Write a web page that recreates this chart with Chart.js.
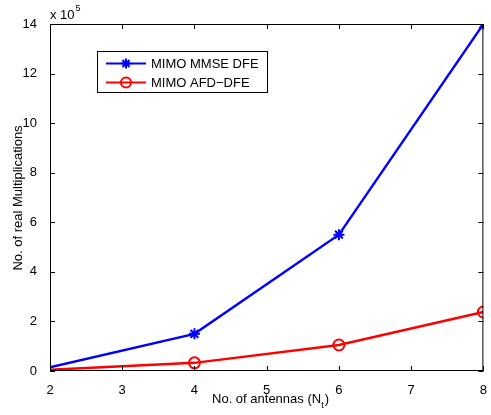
<!DOCTYPE html>
<html><head><meta charset="utf-8">
<script src="https://cdn.jsdelivr.net/npm/chart.js@4.4.1/dist/chart.umd.min.js"></script>
<style>html,body{margin:0;padding:0;background:#fff}</style>
</head><body>
<canvas id="c" width="491" height="415"></canvas>
<script>
const antennas = [2, 4, 6, 8];
const mmseDfe = [0.15, 1.5, 5.5, 14];
const afdDfe = [0.05, 0.33, 1.05, 2.38];
const seriesLabels = ['MIMO MMSE DFE', 'MIMO AFD\u2212DFE'];
const xTicks = [2, 3, 4, 5, 6, 7, 8];
const yTicks = [0, 2, 4, 6, 8, 10, 12, 14];
const FAM = '"Liberation Sans", Arial, sans-serif';
const FONT = '13px ' + FAM;
const SMALL = '9px ' + FAM;

const decor = {
  id: 'decor',
  afterDraw(chart) {
    const {ctx, chartArea: a, scales: {x, y}} = chart;
    ctx.save();
    ctx.strokeStyle = '#000';
    ctx.lineWidth = 1;
    ctx.strokeRect(a.left + 0.5, a.top + 0.5, a.right - a.left - 1, a.bottom - a.top - 1);
    ctx.beginPath();
    xTicks.forEach(v => {
      const px = Math.round(x.getPixelForValue(v)) + 0.5;
      ctx.moveTo(px, a.bottom); ctx.lineTo(px, a.bottom - 5);
      ctx.moveTo(px, a.top); ctx.lineTo(px, a.top + 5);
    });
    yTicks.forEach(v => {
      const py = Math.round(y.getPixelForValue(v)) + 0.5;
      ctx.moveTo(a.left, py); ctx.lineTo(a.left + 5, py);
      ctx.moveTo(a.right, py); ctx.lineTo(a.right - 5, py);
    });
    ctx.stroke();
    ctx.fillStyle = '#000';
    ctx.font = FONT;
    // exponent label
    ctx.textBaseline = 'alphabetic';
    ctx.textAlign = 'left';
    ctx.fillText('x 10', a.left, a.top - 5);
    const w = ctx.measureText('x 10').width;
    ctx.font = SMALL;
    ctx.fillText('5', a.left + w + 1, a.top - 13);
    // x title with subscript
    ctx.font = FONT;
    const t1 = 'No. of antennas (N', t2 = 't', t3 = ')';
    const w1 = ctx.measureText(t1).width;
    ctx.font = SMALL;
    const w2 = ctx.measureText(t2).width;
    ctx.font = FONT;
    const w3 = ctx.measureText(t3).width;
    let sx = 270 - (w1 + w2 + w3) / 2;
    const by = 403;
    ctx.fillText(t1, sx, by);
    ctx.font = SMALL;
    ctx.fillText(t2, sx + w1, by + 5);
    ctx.font = FONT;
    ctx.fillText(t3, sx + w1 + w2 + 1, by);
    // y title
    ctx.save();
    ctx.translate(18, 198);
    ctx.rotate(-Math.PI / 2);
    ctx.textAlign = 'center';
    ctx.textBaseline = 'middle';
    ctx.fillText('No. of real Multiplications', 0, 0);
    ctx.restore();
    // legend
    const lx = 97.5, ly = 51.5, lw = 170, lh = 41;
    ctx.fillStyle = '#fff';
    ctx.fillRect(lx, ly, lw, lh);
    ctx.strokeStyle = '#000';
    ctx.lineWidth = 1;
    ctx.strokeRect(lx, ly, lw, lh);
    const rows = [63.5, 82.5];
    chart.data.datasets.forEach((ds, i) => {
      const ry = rows[i];
      ctx.strokeStyle = ds.borderColor;
      ctx.lineWidth = 2.2;
      ctx.beginPath(); ctx.moveTo(106, ry); ctx.lineTo(146, ry); ctx.stroke();
      const cx = 126;
      if (ds.pointStyle === 'star') {
        ctx.lineWidth = 2;
        ctx.beginPath();
        const r = 5;
        for (let k = 0; k < 4; k++) {
          const ang = k * Math.PI / 4;
          ctx.moveTo(cx - r * Math.cos(ang), ry - r * Math.sin(ang));
          ctx.lineTo(cx + r * Math.cos(ang), ry + r * Math.sin(ang));
        }
        ctx.stroke();
      } else {
        ctx.lineWidth = 2;
        ctx.beginPath(); ctx.arc(cx, ry, 5, 0, Math.PI * 2); ctx.stroke();
      }
      ctx.fillStyle = '#000';
      ctx.font = FONT;
      ctx.textBaseline = 'middle';
      ctx.textAlign = 'left';
      ctx.fillText(ds.label, 151, ry + 0.5);
    });
    ctx.restore();
  }
};

const radii = [0, 5.5, 5.5, 5.5];

new Chart(document.getElementById('c'), {
  type: 'line',
  data: {
    datasets: [
      {label: seriesLabels[0], data: antennas.map((a, i) => ({x: a, y: mmseDfe[i]})),
       borderColor: 'rgb(0,0,255)', backgroundColor: 'rgb(0,0,255)', borderWidth: 2.4,
       pointStyle: 'star', pointRadius: radii, pointBorderWidth: 2, pointHoverRadius: 5, tension: 0, clip: 0},
      {label: seriesLabels[1], data: antennas.map((a, i) => ({x: a, y: afdDfe[i]})),
       borderColor: 'rgb(255,0,0)', backgroundColor: 'rgba(0,0,0,0)', borderWidth: 2.4,
       pointStyle: 'circle', pointRadius: radii, pointBorderWidth: 2, pointHoverRadius: 5, tension: 0, clip: 0}
    ]
  },
  options: {
    responsive: false, animation: false,
    layout: {padding: {left: 0, right: 1, top: 24, bottom: 0}},
    plugins: {legend: {display: false}, tooltip: {enabled: false}},
    scales: {
      x: {type: 'linear', min: 2, max: 8,
          afterFit(s) { s.height = 44; },
          afterBuildTicks(s) { s.ticks = xTicks.map(v => ({value: v})); },
          grid: {display: false}, border: {display: false},
          ticks: {color: '#000', font: {family: FAM, size: 13}, padding: 4, maxRotation: 0}},
      y: {type: 'linear', min: 0, max: 14,
          afterFit(s) { s.width = 50; },
          afterBuildTicks(s) { s.ticks = yTicks.map(v => ({value: v})); },
          grid: {display: false}, border: {display: false},
          ticks: {color: '#000', font: {family: FAM, size: 13}, padding: 5}}
    }
  },
  plugins: [decor]
});
</script>
</body></html>
